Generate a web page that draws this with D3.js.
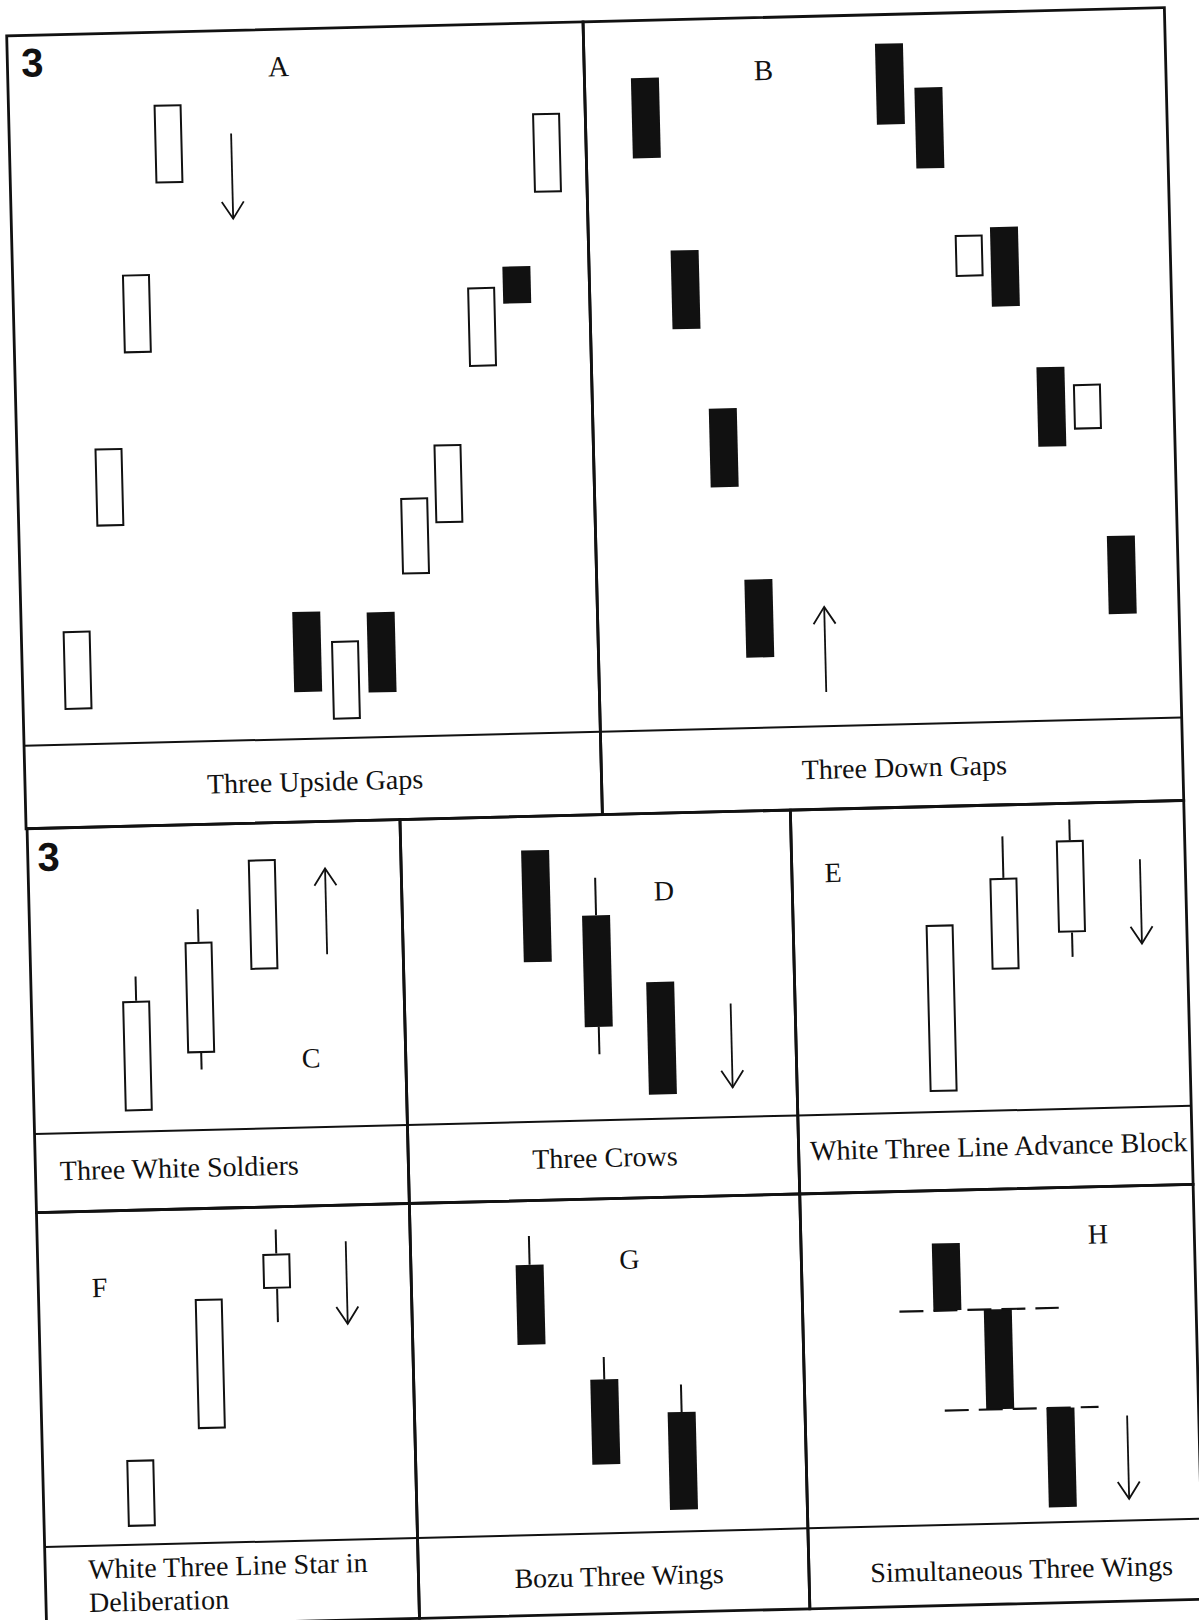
<!DOCTYPE html>
<html>
<head>
<meta charset="utf-8">
<script src="https://cdn.jsdelivr.net/npm/d3@7"></script>
<style>
html,body{margin:0;padding:0;background:#fff;}
svg{display:block;}
</style>
</head>
<body>
<svg id="chart" width="1199" height="1620"></svg>
<script>
// ---------------- DATA (x = time slot 0-10, prices 0-100 per panel) ----------------
const panelIds = ["A","B","C","D","E","F","G","H"];

const captionTexts = [
  ["Three Upside Gaps"],
  ["Three Down Gaps"],
  ["Three White Soldiers"],
  ["Three Crows"],
  ["White Three Line Advance Block"],
  ["White Three Line Star in", "Deliberation"],
  ["Bozu Three Wings"],
  ["Simultaneous Three Wings"]
];

const candlesA = [
  {x:0.96, open:4.9,  close:16.0},
  {x:1.59, open:30.6, close:41.6},
  {x:2.14, open:54.9, close:66.0},
  {x:2.76, open:78.7, close:89.8},
  {x:4.95, open:17.9, close:6.6},
  {x:5.61, open:2.6,  close:13.7},
  {x:6.24, open:17.6, close:6.3},
  {x:6.87, open:22.8, close:33.6},
  {x:7.47, open:29.9, close:41.0},
  {x:8.12, open:51.8, close:63.0},
  {x:8.74, open:65.8, close:60.6},
  {x:9.32, open:76.1, close:87.3}
];
const candlesB = [
  {x:1.04, open:91.9, close:80.6},
  {x:1.65, open:67.5, close:56.4},
  {x:2.24, open:45.1, close:34.0},
  {x:2.78, open:20.9, close:9.9},
  {x:5.25, open:95.9, close:84.5},
  {x:5.91, open:89.6, close:78.2},
  {x:6.54, open:62.8, close:68.7},
  {x:7.15, open:69.7, close:58.5},
  {x:7.89, open:49.8, close:38.6},
  {x:8.51, open:40.9, close:47.3},
  {x:9.03, open:25.8, close:14.8}
];
const candlesC = [
  {x:2.81, open:6.7,  close:42.8, high:50.8},
  {x:4.52, open:25.2, close:61.6, high:72.3, low:19.8},
  {x:6.27, open:52.0, close:88.1}
];
const candlesD = [
  {x:3.44, open:88.9, close:52.3},
  {x:4.96, open:67.1, close:30.6, high:79.4, low:21.6},
  {x:6.56, open:44.8, close:8.0}
];
const candlesE = [
  {x:3.72, open:6.6,  close:61.3},
  {x:5.37, open:46.1, close:76.1, high:89.7},
  {x:7.08, open:57.7, close:87.9, high:94.7, low:49.7}
];
const candlesF = [
  {x:2.62, open:5.4,  close:25.4},
  {x:4.56, open:34.1, close:73.0},
  {x:6.40, open:75.5, close:86.0, high:93.2, low:65.5}
];
const candlesG = [
  {x:3.04, open:80.8, close:56.9, high:89.4},
  {x:4.88, open:46.0, close:20.6, high:52.7},
  {x:6.84, open:35.7, close:6.5,  high:43.9}
];
const candlesH = [
  {x:3.68, open:84.2, close:64.1},
  {x:4.96, open:64.1, close:34.2},
  {x:6.49, open:34.2, close:4.5}
];

// trend arrows: x slot, price where it starts and where the head is
const trendArrows = [
  {panel:"A", x:3.85, from:85.5, to:73.5},
  {panel:"B", x:3.90, from:4.8,  to:16.8},
  {panel:"C", x:7.96, from:56.5, to:84.6},
  {panel:"D", x:8.35, from:37.2, to:9.7},
  {panel:"E", x:8.85, from:81.1, to:53.5},
  {panel:"F", x:8.27, from:89.2, to:64.5},
  {panel:"H", x:8.18, from:31.4, to:6.5}
];

// dashed reference levels (Simultaneous Three Wings)
const levelLines = [
  {panel:"H", level:64.1, x0:2.46, x1:6.51},
  {panel:"H", level:34.2, x0:3.55, x1:7.46}
];

// panel letters (x slot, price level of baseline)
const letterLabels = [
  {panel:"A", text:"A", x:4.70, y:93.4},
  {panel:"B", text:"B", x:3.08, y:91.2},
  {panel:"C", text:"C", x:7.46, y:19.6},
  {panel:"D", text:"D", x:6.71, y:71.5},
  {panel:"E", text:"E", x:1.05, y:76.1},
  {panel:"F", text:"F", x:1.64, y:74.3},
  {panel:"G", text:"G", x:5.60, y:78.9},
  {panel:"H", text:"H", x:7.55, y:83.0}
];
const numberLabels = [
  {panel:"A", text:"3", x:0.24, y:94.2},
  {panel:"C", text:"3", x:0.26, y:86.1}
];

// ---------------- LAYOUT ----------------
const candleSets = {A:candlesA,B:candlesB,C:candlesC,D:candlesD,E:candlesE,F:candlesF,G:candlesG,H:candlesH};
const layout = {
  A:{l:1,     r:577.5, t:0,    b:710,    cb:793},
  B:{l:577.5, r:1159,  t:0,    b:710,    cb:793},
  C:{l:2,     r:375,   t:793,  b:1098.5, cb:1177},
  D:{l:375,   r:765.5, t:793,  b:1098.5, cb:1177},
  E:{l:765.5, r:1159,  t:793,  b:1098.5, cb:1177},
  F:{l:2,     r:375,   t:1177, b:1511.5, cb:1592},
  G:{l:375,   r:765.5, t:1177, b:1511.5, cb:1592},
  H:{l:765.5, r:1159,  t:1177, b:1511.5, cb:1592}
};
const captionPos = {
  A:{x:291,   y:762.3,  anchor:"middle"},
  B:{x:880.5, y:762.6,  anchor:"middle"},
  C:{x:26.4,  y:1145.3, anchor:"start"},
  D:{x:571.7, y:1145.3, anchor:"middle"},
  E:{x:776.9, y:1143.6, anchor:"start"},
  F:{x:45,    y:1544.3, anchor:"start"},
  G:{x:575.6, y:1564,   anchor:"middle"},
  H:{x:978.2, y:1567,   anchor:"middle"}
};

const INK = "#111";
const BODY_W = 28;
const SERIF = "'Liberation Serif','Times New Roman',Times,serif";
const SANS = "'Liberation Sans',Arial,Helvetica,sans-serif";

const svg = d3.select("#chart");
svg.append("rect").attr("width",1199).attr("height",1620).attr("fill","#fff");
// the scanned page is slightly rotated
const page = svg.append("g").attr("transform","translate(5.7,36) rotate(-1.4)");

const scales = {};
panelIds.forEach(id => {
  const L = layout[id];
  scales[id] = {
    x: d3.scaleLinear().domain([0,10]).range([L.l, L.r]),
    y: d3.scaleLinear().domain([0,100]).range([L.b, L.t])
  };
});

// frames
const frames = page.append("g");
panelIds.forEach(id => {
  const L = layout[id];
  frames.append("rect")
    .attr("x",L.l).attr("y",L.t).attr("width",L.r-L.l).attr("height",L.cb-L.t)
    .attr("fill","none").attr("stroke",INK).attr("stroke-width",2.8);
  frames.append("line")
    .attr("x1",L.l).attr("x2",L.r).attr("y1",L.b).attr("y2",L.b)
    .attr("stroke",INK).attr("stroke-width",2);
});

// candles
panelIds.forEach(id => {
  const {x, y} = scales[id];
  const grp = page.append("g").attr("class","panel-"+id);
  const data = candleSets[id].map(d => ({
    ...d,
    hi: d.high !== undefined ? d.high : Math.max(d.open,d.close),
    lo: d.low  !== undefined ? d.low  : Math.min(d.open,d.close),
    up: d.close > d.open
  }));
  // wicks
  grp.selectAll("line.wick").data(data.filter(d => d.hi > Math.max(d.open,d.close)))
    .join("line").attr("class","wick")
    .attr("x1",d=>x(d.x)).attr("x2",d=>x(d.x))
    .attr("y1",d=>y(d.hi)).attr("y2",d=>y(Math.max(d.open,d.close)))
    .attr("stroke",INK).attr("stroke-width",2);
  grp.selectAll("line.wickLow").data(data.filter(d => d.lo < Math.min(d.open,d.close)))
    .join("line").attr("class","wickLow")
    .attr("x1",d=>x(d.x)).attr("x2",d=>x(d.x))
    .attr("y1",d=>y(Math.min(d.open,d.close))).attr("y2",d=>y(d.lo))
    .attr("stroke",INK).attr("stroke-width",2);
  // bodies
  grp.selectAll("rect.body").data(data).join("rect").attr("class","body")
    .attr("x",d=> x(d.x) - BODY_W/2 + (d.up?1:0))
    .attr("width",d=> BODY_W - (d.up?2:0))
    .attr("y",d=> y(Math.max(d.open,d.close)) + (d.up?1:0))
    .attr("height",d=> y(Math.min(d.open,d.close)) - y(Math.max(d.open,d.close)) - (d.up?2:0))
    .attr("fill",d=> d.up ? "#fff" : INK)
    .attr("stroke",d=> d.up ? INK : "none")
    .attr("stroke-width",2);
});

// dashed levels
levelLines.forEach(d => {
  const {x, y} = scales[d.panel];
  page.append("line")
    .attr("x1",x(d.x0)).attr("x2",x(d.x1)).attr("y1",y(d.level)).attr("y2",y(d.level))
    .attr("stroke",INK).attr("stroke-width",2.2).attr("stroke-dasharray","24,10");
});

// arrows
trendArrows.forEach(d => {
  const {x, y} = scales[d.panel];
  const px = x(d.x), y1 = y(d.from), y2 = y(d.to);
  const dir = Math.sign(y2 - y1);
  page.append("line").attr("x1",px).attr("x2",px).attr("y1",y1).attr("y2",y2)
    .attr("stroke",INK).attr("stroke-width",1.8);
  page.append("path")
    .attr("d", d3.line()([[px-11, y2 - dir*17],[px, y2],[px+11, y2 - dir*17]]))
    .attr("fill","none").attr("stroke",INK).attr("stroke-width",1.8);
});

// letters
letterLabels.forEach(d => {
  const {x, y} = scales[d.panel];
  page.append("text").attr("x",x(d.x)).attr("y",y(d.y))
    .attr("text-anchor","middle")
    .attr("font-family",SERIF).attr("font-size",(d.panel==="A"||d.panel==="B")?29:28)
    .attr("fill",INK).text(d.text);
});
numberLabels.forEach(d => {
  const {x, y} = scales[d.panel];
  page.append("text").attr("x",x(d.x)).attr("y",y(d.y))
    .attr("font-family",SANS).attr("font-weight","bold").attr("font-size",40)
    .attr("fill",INK).text(d.text);
});

// captions
panelIds.forEach((id,i) => {
  const p = captionPos[id];
  const t = page.append("text").attr("x",p.x).attr("y",p.y)
    .attr("text-anchor",p.anchor)
    .attr("font-family",SERIF).attr("font-size",28).attr("fill",INK);
  captionTexts[i].forEach((line,j) => {
    t.append("tspan").attr("x",p.x).attr("dy", j===0 ? 0 : 33.4).text(line);
  });
});
</script>
</body>
</html>
